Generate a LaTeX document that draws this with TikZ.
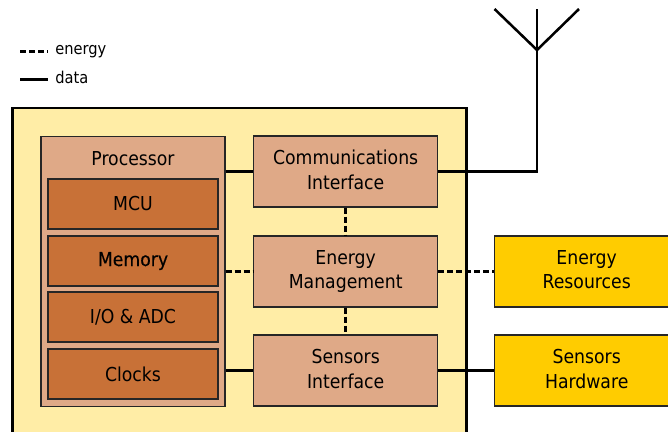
\documentclass[tikz,border=0pt]{standalone}
\usepackage{fontspec}
\setmainfont{DejaVu Sans Condensed}
\newfontfamily\heavyfont[FakeBold=0.3]{DejaVu Sans Condensed}
\usetikzlibrary{arrows}
\definecolor{boardfill}{HTML}{FFEDA6}
\definecolor{blockfill}{HTML}{DFA987}
\definecolor{partfill}{HTML}{C87137}
\definecolor{extfill}{HTML}{FFCC00}
\tikzset{
  board/.style={draw=black,line width=2.2pt,fill=boardfill,inner sep=0pt,minimum width=340pt,minimum height=300pt},
  block/.style={draw=black!85,line width=1.1pt,fill=blockfill,inner sep=0pt,align=center,text depth=3pt,font=\fontsize{14.4}{18.7}\selectfont,minimum width=138pt,minimum height=53pt},
  part/.style={block,text depth=,fill=partfill,minimum width=127.5pt,minimum height=37.2pt},
  ext/.style={block,fill=extfill},
  label/.style={inner sep=0pt,font=\fontsize{14.4}{18.7}\selectfont},
  legendtext/.style={inner sep=0pt,anchor=base west,font=\fontsize{12.2}{14}\selectfont},
  dataline/.style={line width=1.9pt},
  energyline/.style={line width=1.9pt,dash pattern=on 4.5pt off 2.25pt}
}
\begin{document}
\begin{tikzpicture}[x=.75pt,y=-.75pt]
\useasboundingbox (0,0) rectangle (668,432);
\clip (0,0) rectangle (668,432);
\node [board] (board) at (239.5,308) {};
\node [block,text depth=,minimum height=202.5pt] (processor) at (133,271.5) {};
\node [label] (processorlabel) at (133,159) {Processor};
\node [part] (mcu) at (133,204) {MCU};
\node [part] (memory) at (133,261) {\heavyfont Memory};
\node [part] (io) at (133,317) {I/O \& ADC};
\node [part] (clocks) at (133,374) {Clocks};
\node [block] (comm) at (345.7,171.5) {Communications\\Interface};
\node [block] (energy) at (345.7,271.5) {Energy\\Management};
\node [block] (sensors) at (345.7,370.5) {Sensors\\Interface};
\node [ext] (resources) at (586.7,271.5) {Energy\\Resources};
\node [ext] (hardware) at (586.7,370.5) {Sensors\\Hardware};
% antenna
\coordinate (foot) at (537,50);
\coordinate (tipleft) at (494.5,9);
\coordinate (tipmid) at (537,9);
\coordinate (tipright) at (579,9);
\draw [dataline] (comm.east) -| (foot);
\draw [dataline] (tipleft) -- (foot) -- (tipright);
\draw [dataline] (tipmid) -- (foot);
% links
\draw [dataline] (processor.east |- comm.west) -- (comm.west);
\draw [dataline] (processor.east |- sensors.west) -- (sensors.west);
\draw [dataline] (sensors.east) -- (hardware.west);
\draw [energyline] (processor.east) -- (energy.west);
\draw [energyline] (energy.east) -- (resources.west);
\draw [energyline] (comm.south) -- (energy.north);
\draw [energyline] (energy.south) -- (sensors.north);
% legend
\coordinate (energya) at (20,51.5);
\coordinate (energyb) at (48,51.5);
\coordinate (dataa) at (20,79.5);
\coordinate (datab) at (48,79.5);
\draw [energyline] (energya) -- (energyb);
\draw [dataline] (dataa) -- (datab);
\node [legendtext] (energytext) at (55,55) {energy};
\node [legendtext] (datatext) at (55,83) {data};
\end{tikzpicture}
\end{document}
